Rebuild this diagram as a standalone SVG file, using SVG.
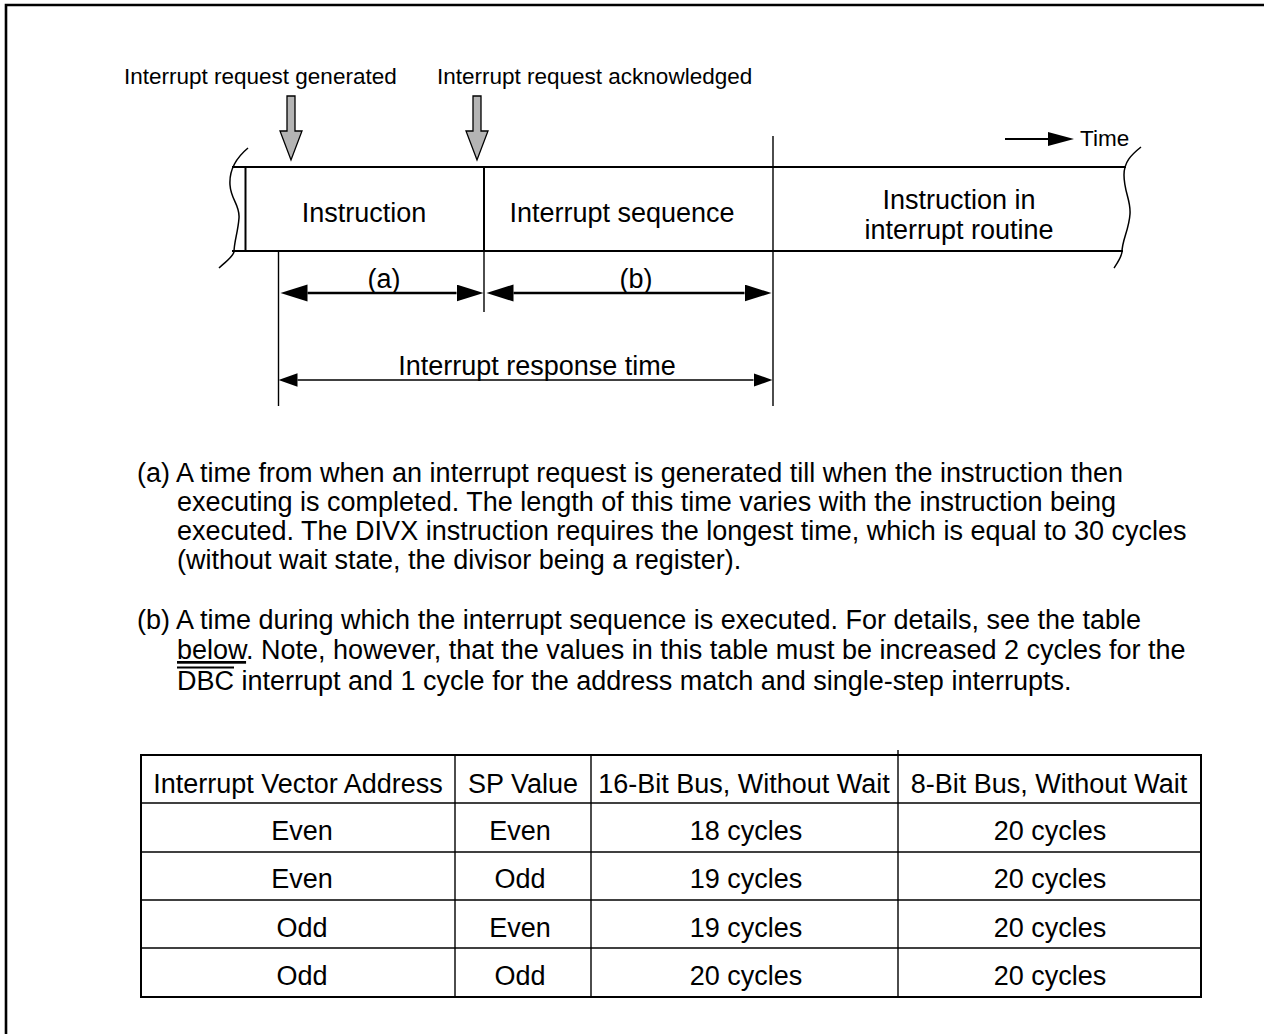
<svg xmlns="http://www.w3.org/2000/svg" width="1264" height="1034" viewBox="0 0 1264 1034">
<style>
.t{font-family:"Liberation Sans",Arial,Helvetica,sans-serif;fill:#000}
.lab{font-size:22.5px}
.big{font-size:27px}
.m{text-anchor:middle}
.ln{stroke:#000;fill:none}
.thin{stroke-width:1.4}
.band{stroke-width:2.2}
.gray{fill:#b4b4b4;stroke:#000;stroke-width:1.3}
</style>
<defs>
<marker id="ahBig" markerUnits="userSpaceOnUse" markerWidth="28" markerHeight="18" refX="0" refY="8.5" orient="auto-start-reverse"><path d="M0,0 L27,8.5 L0,17 Z" fill="#000"/></marker>
<marker id="ahSmall" markerUnits="userSpaceOnUse" markerWidth="20" markerHeight="14" refX="0" refY="6.7" orient="auto-start-reverse"><path d="M0,0 L19,6.7 L0,13.4 Z" fill="#000"/></marker>
<marker id="ahTime" markerUnits="userSpaceOnUse" markerWidth="27" markerHeight="16" refX="0" refY="7" orient="auto"><path d="M0,0 L26,7 L0,14 Z" fill="#000"/></marker>
</defs>
<rect width="1264" height="1034" fill="#fff"/>
<path class="ln" d="M6,1034 V5 H1264" stroke-width="2.6"/>

<g id="timeline">
<line class="ln band" x1="232" y1="167" x2="1126" y2="167"/>
<line class="ln band" x1="232" y1="251" x2="1123" y2="251"/>
<line class="ln" stroke-width="2" x1="245.5" y1="167" x2="245.5" y2="251"/>
<path class="ln" stroke-width="1.5" d="M248,148 C236,158 229,170 230,185 C231,200 240,205 239,218 C238,232 234,242 234,252 C232,258 225,262 219,268"/>
<path class="ln" stroke-width="1.5" d="M1141,147 C1131,155 1124,162 1124,175 C1124,192 1131,200 1130,214 C1129,230 1122,240 1122,252 C1121,258 1118,262 1114,268"/>
</g>

<g id="node-instruction">
<text class="t big m" x="364" y="222">Instruction</text>
</g>
<g id="node-interrupt-sequence">
<line class="ln" stroke-width="2" x1="484" y1="167" x2="484" y2="251"/>
<text class="t big m" x="622" y="222">Interrupt sequence</text>
</g>
<g id="node-interrupt-routine">
<line class="ln thin" x1="773" y1="136" x2="773" y2="251"/>
<text class="t big m" x="959" y="209">Instruction in</text>
<text class="t big m" x="959" y="239">interrupt routine</text>
</g>

<g id="label-generated">
<text class="t lab" x="124" y="84">Interrupt request generated</text>
</g>
<g id="label-acknowledged">
<text class="t lab" x="437" y="84">Interrupt request acknowledged</text>
</g>
<g id="label-time">
<text class="t lab" x="1080" y="146">Time</text>
</g>

<g id="connectors">
<path class="gray" d="M287,96 H295 V131 H302 L291,160 L280,131 H287 Z"/>
<path class="gray" d="M473,96 H481 V131 H488 L477,160 L466,131 H473 Z"/>
<line class="ln" stroke-width="2" x1="1005" y1="139" x2="1048" y2="139" marker-end="url(#ahTime)"/>
<line class="ln thin" x1="278.5" y1="251" x2="278.5" y2="406"/>
<line class="ln thin" x1="484" y1="251" x2="484" y2="312"/>
<line class="ln thin" x1="773" y1="251" x2="773" y2="406"/>
<line class="ln" stroke-width="2.7" x1="307.5" y1="293" x2="456.5" y2="293" marker-start="url(#ahBig)" marker-end="url(#ahBig)"/>
<line class="ln" stroke-width="2.7" x1="513.5" y1="293" x2="744.5" y2="293" marker-start="url(#ahBig)" marker-end="url(#ahBig)"/>
<line class="ln thin" x1="297.5" y1="380" x2="753.5" y2="380" marker-start="url(#ahSmall)" marker-end="url(#ahSmall)"/>
</g>

<g id="dimension-labels">
<text class="t big m" x="384" y="288">(a)</text>
<text class="t big m" x="636" y="288">(b)</text>
<text class="t big m" x="537" y="375">Interrupt response time</text>
</g>

<g id="notes">
<text class="t big" x="137" y="482">(a) A time from when an interrupt request is generated till when the instruction then</text>
<text class="t big" x="177" y="511">executing is completed. The length of this time varies with the instruction being</text>
<text class="t big" x="177" y="540">executed. The DIVX instruction requires the longest time, which is equal to 30 cycles</text>
<text class="t big" x="177" y="569">(without wait state, the divisor being a register).</text>
<text class="t big" x="137" y="629">(b) A time during which the interrupt sequence is executed. For details, see the table</text>
<text class="t big" x="177" y="659"><tspan text-decoration="underline">below</tspan>. Note, however, that the values in this table must be increased 2 cycles for the</text>
<text class="t big" x="177" y="690">DBC interrupt and 1 cycle for the address match and single-step interrupts.</text>
<line class="ln" stroke-width="1.8" x1="177" y1="667.5" x2="234" y2="667.5"/>
</g>

<g id="table">
<rect class="ln" stroke-width="2" x="141" y="755" width="1060" height="242"/>
<g class="ln thin">
<line x1="141" y1="803" x2="1201" y2="803"/>
<line x1="141" y1="852" x2="1201" y2="852"/>
<line x1="141" y1="900" x2="1201" y2="900"/>
<line x1="141" y1="948" x2="1201" y2="948"/>
<line x1="455" y1="755" x2="455" y2="997"/>
<line x1="591" y1="755" x2="591" y2="997"/>
<line x1="898" y1="750" x2="898" y2="997"/>
</g>
<g class="t big m">
<text x="298" y="793">Interrupt Vector Address</text>
<text x="523" y="793">SP Value</text>
<text x="744" y="793">16-Bit Bus, Without Wait</text>
<text x="1049" y="793">8-Bit Bus, Without Wait</text>
<text x="302" y="840">Even</text>
<text x="520" y="840">Even</text>
<text x="746" y="840">18 cycles</text>
<text x="1050" y="840">20 cycles</text>
<text x="302" y="888">Even</text>
<text x="520" y="888">Odd</text>
<text x="746" y="888">19 cycles</text>
<text x="1050" y="888">20 cycles</text>
<text x="302" y="937">Odd</text>
<text x="520" y="937">Even</text>
<text x="746" y="937">19 cycles</text>
<text x="1050" y="937">20 cycles</text>
<text x="302" y="985">Odd</text>
<text x="520" y="985">Odd</text>
<text x="746" y="985">20 cycles</text>
<text x="1050" y="985">20 cycles</text>
</g>
</g>
</svg>
